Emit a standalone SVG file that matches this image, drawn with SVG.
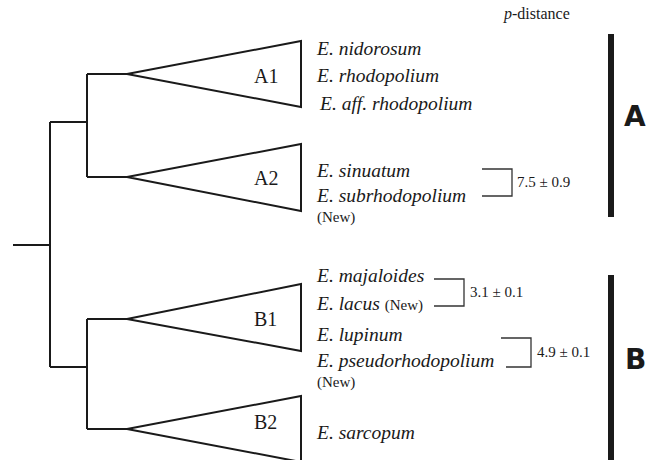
<svg xmlns="http://www.w3.org/2000/svg" width="648" height="460" viewBox="0 0 648 460">
<style>
.tree{fill:none;stroke:#1a1a1a;stroke-width:2;stroke-linejoin:miter}
.tri{fill:#fff;stroke:#1a1a1a;stroke-width:2}
.br{fill:none;stroke:#333;stroke-width:1.3}
.sp{font-family:"Liberation Serif","Times New Roman",serif;font-style:italic;font-size:19.5px;fill:#1a1a1a}
.new{font-family:"Liberation Serif","Times New Roman",serif;font-size:15px;fill:#1a1a1a}
.pd{font-family:"Liberation Serif","Times New Roman",serif;font-size:16px;fill:#1a1a1a}
.cl{font-family:"Liberation Serif","Times New Roman",serif;font-size:20px;fill:#1a1a1a}
.num{font-family:"Liberation Serif","Times New Roman",serif;font-size:15px;fill:#1a1a1a}
.grp{font-family:"DejaVu Sans","Liberation Sans",sans-serif;font-weight:bold;font-size:28px;fill:#1a1a1a}
.bar{fill:#1a1a1a}
</style>
<rect width="648" height="460" fill="#fff"/>
<g id="connectors">
<path class="tree" d="M13,245 H50 M50,122 V367 M50,122 H87 M50,367 H87 M87,74 V177 M87,74 H127 M87,177 H127 M87,319 V429 M87,319 H127 M87,429 H127"/>
<path class="br" d="M482,169 H512 V196 H482"/>
<path class="br" d="M434,279 H464 V306 H434"/>
<path class="br" d="M501,338 H531 V367 H506"/>
</g>
<g id="A1"><polygon class="tri" points="127,74 301,41 301,107"/><text class="cl" x="254" y="83">A1</text></g>
<g id="A2"><polygon class="tri" points="127,177 301,144 301,211"/><text class="cl" x="254" y="185">A2</text></g>
<g id="B1"><polygon class="tri" points="127,319 301,284 301,351"/><text class="cl" x="254" y="326">B1</text></g>
<g id="B2"><polygon class="tri" points="127,429 301,396 301,462"/><text class="cl" x="254" y="429">B2</text></g>
<g id="taxa">
<text class="sp" x="317" y="55">E. nidorosum</text>
<text class="sp" x="317" y="82">E. rhodopolium</text>
<text class="sp" x="320" y="110">E. aff. rhodopolium</text>
<text class="sp" x="317" y="177">E. sinuatum</text>
<text class="sp" x="317" y="202">E. subrhodopolium</text>
<text class="new" x="317" y="222">(New)</text>
<text class="sp" x="317" y="282">E. majaloides</text>
<text class="sp" x="317" y="310">E. lacus <tspan class="new" font-style="normal">(New)</tspan></text>
<text class="sp" x="317" y="341">E. lupinum</text>
<text class="sp" x="317" y="367">E. pseudorhodopolium</text>
<text class="new" x="317" y="387">(New)</text>
<text class="sp" x="317" y="439">E. sarcopum</text>
</g>
<g id="distances">
<text class="num" x="517" y="187">7.5 ± 0.9</text>
<text class="num" x="470" y="297">3.1 ± 0.1</text>
<text class="num" x="537" y="357">4.9 ± 0.1</text>
<text class="pd" x="504" y="19"><tspan font-style="italic">p</tspan>-distance</text>
</g>
<g id="groupA"><rect class="bar" x="608" y="34" width="6" height="183"/><text class="grp" x="624" y="126">A</text></g>
<g id="groupB"><rect class="bar" x="608" y="275" width="6" height="185"/><text class="grp" x="625" y="369">B</text></g>
</svg>
